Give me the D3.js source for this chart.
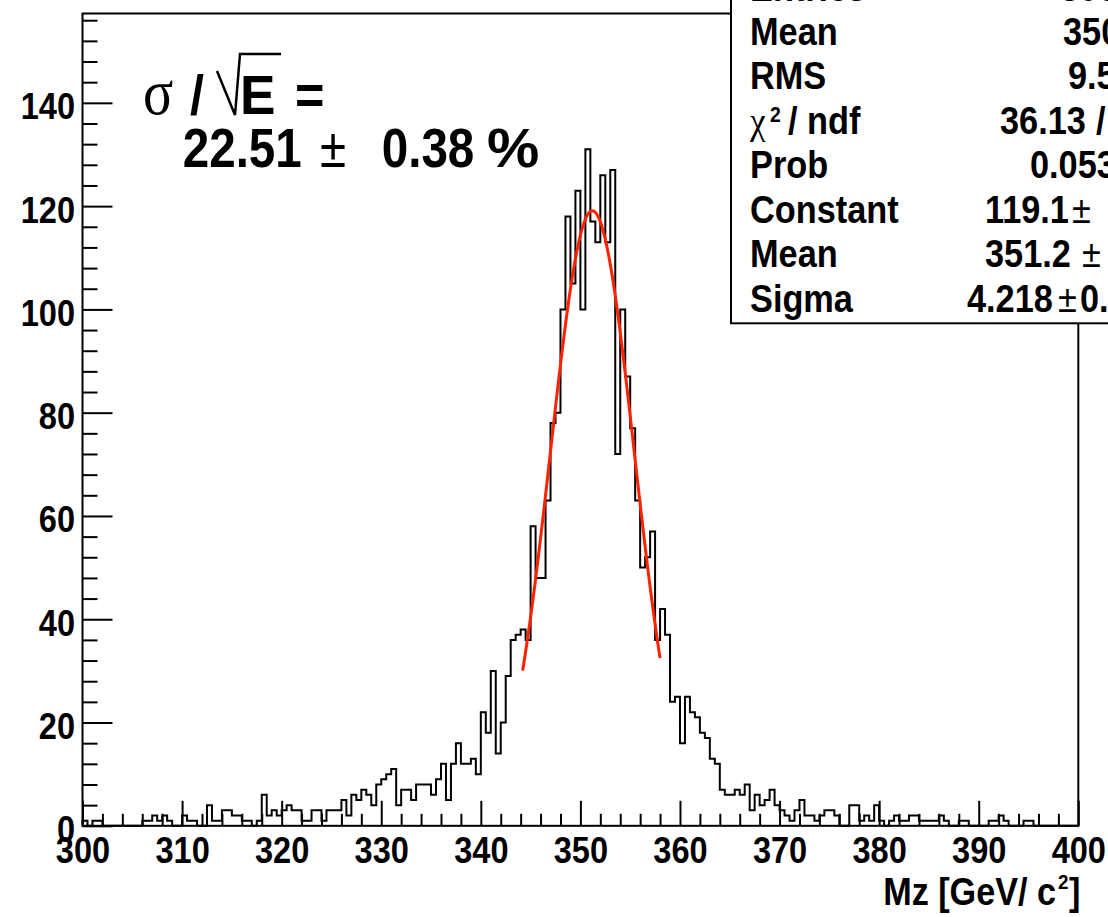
<!DOCTYPE html>
<html>
<head>
<meta charset="utf-8">
<script src="https://cdn.jsdelivr.net/npm/d3@7"></script>
<style>
  body { margin: 0; background: #fff; }
  svg { display: block; }
</style>
</head>
<body>
<svg id="chart" width="1108" height="917"></svg>
<script>
// Reconstructed Z mass histogram: 200 bins of 0.5 GeV between 300 and 400 GeV/c^2
const massRange = [300, 400];
const binCounts = [
  1,0,1,1,0,0,0,0,0,0,
  0,0,1,1,2,1,2,1,0,0,
  2,1,1,0,0,4,1,1,3,3,
  2,2,1,1,0,1,6,2,3,2,
  3,4,3,3,1,1,3,3,1,3,
  3,3,5,2,6,5,7,6,4,8,
  9,10,11,4,7,7,5,8,8,8,
  6,9,12,5,12,16,12,12,13,10,
  22,18,30,14,20,29,36,37,38,36,
  58,48,48,63,78,80,100,118,105,123,
  100,131,117,113,126,113,127,72,100,87,
  77,63,50,52,57,36,42,37,24,25,
  16,25,22,21,18,17,13,12,7,6,
  6,7,6,8,3,6,4,5,7,4,
  3,2,1,3,5,2,2,1,2,3,
  3,2,0,0,4,4,1,2,1,4,
  1,0,1,2,1,1,2,2,1,1,
  1,1,2,1,0,0,1,1,0,0,
  0,0,1,1,2,1,0,0,0,1,
  1,0,0,0,0,0,0,0,0,0
];
const countMax = 157.3;

// Axis ticks
const xMajorTicks = [300, 310, 320, 330, 340, 350, 360, 370, 380, 390, 400];
const xMinorStep = 2;
const yMajorTicks = [0, 20, 40, 60, 80, 100, 120, 140];
const yMinorStep = 4;
const xTitle = "Mz [GeV/ c";

// Gaussian fit results
const fitConstant = 119.1;
const fitMean = 351.2;
const fitSigma = 4.218;
const fitRange = [344.2, 358.0];

// Statistics box rows: label, then value pieces with their start x
const statNames = ["Entries", "Mean", "RMS", "χ2 / ndf", "Prob", "Constant", "Mean", "Sigma"];
const statValues = [
  [["3000", 1060]],
  [["350.5", 1063]],
  [["9.551", 1068]],
  [["36.13", 1000], ["/", 1096], ["24", 1110]],
  [["0.05337", 1030]],
  [["119.1", 985], ["±", 1072], ["3.5", 1110]],
  [["351.2", 985], ["±", 1082], ["0.1", 1110]],
  [["4.218", 967], ["±", 1058], ["0.110", 1080]]
];

// Energy resolution annotation
const resolutionValue = "22.51";
const resolutionError = "0.38";

const SANS = "'Liberation Sans', Arial, Helvetica, sans-serif";
const SERIF = "'Liberation Serif', 'Times New Roman', serif";

const svg = d3.select("#chart");
const frame = { left: 82.5, right: 1078.3, top: 13.5, bottom: 825.8 };

const x = d3.scaleLinear().domain(massRange).range([frame.left, frame.right]);
const y = d3.scaleLinear().domain([0, countMax]).range([frame.bottom, frame.top]);

// Histogram outline
const binWidth = (massRange[1] - massRange[0]) / binCounts.length;
const steps = [[massRange[0], 0]]
  .concat(binCounts.map((c, i) => [massRange[0] + i * binWidth, c]))
  .concat([[massRange[1], binCounts[binCounts.length - 1]], [massRange[1], 0]]);

svg.append("path")
  .attr("d", d3.line().x(d => x(d[0])).y(d => y(d[1])).curve(d3.curveStepAfter)(steps))
  .attr("fill", "none")
  .attr("stroke", "#000")
  .attr("stroke-width", 2);

// Fitted Gaussian
const gauss = m => fitConstant * Math.exp(-0.5 * Math.pow((m - fitMean) / fitSigma, 2));
const fitPts = d3.range(0, 201).map(k => {
  const m = fitRange[0] + (fitRange[1] - fitRange[0]) * k / 200;
  return [m, gauss(m)];
});
svg.append("path")
  .attr("d", d3.line().x(d => x(d[0])).y(d => y(d[1])).curve(d3.curveLinear)(fitPts))
  .attr("fill", "none")
  .attr("stroke", "#ff2200")
  .attr("stroke-width", 3);

// Axes (ticks drawn inside the frame)
const xMinor = d3.range(massRange[0], massRange[1] + 0.001, xMinorStep).filter(v => v % 10 !== 0);
const yMinor = d3.range(0, countMax, yMinorStep).filter(v => v % 20 !== 0);
const TICK_FS = 37, TICK_SX = 0.88;

function styleAxis(g) {
  g.select(".domain").remove();
  g.selectAll(".tick line").attr("stroke", "#000").attr("stroke-width", 2);
  g.selectAll(".tick text")
    .attr("fill", "#000")
    .attr("font-family", SANS)
    .attr("font-weight", "bold")
    .attr("font-size", TICK_FS)
    .attr("transform", `scale(${TICK_SX},1)`);
}

const xAxisMinor = svg.append("g").attr("transform", `translate(0,${frame.bottom})`)
  .call(d3.axisBottom(x).tickValues(xMinor).tickSize(-12).tickFormat(""));
styleAxis(xAxisMinor);

const xAxis = svg.append("g").attr("transform", `translate(0,${frame.bottom})`)
  .call(d3.axisBottom(x).tickValues(xMajorTicks).tickSize(-25).tickPadding(11).tickFormat(d3.format("d")));
styleAxis(xAxis);

const yAxisMinor = svg.append("g").attr("transform", `translate(${frame.left},0)`)
  .call(d3.axisLeft(y).tickValues(yMinor).tickSize(-15).tickFormat(""));
styleAxis(yAxisMinor);

const yAxis = svg.append("g").attr("transform", `translate(${frame.left},0)`)
  .call(d3.axisLeft(y).tickValues(yMajorTicks).tickSize(-30).tickPadding(8.5).tickFormat(d3.format("d")));
styleAxis(yAxis);
yAxis.selectAll(".tick text").attr("dy", "0.43em");

// Frame
svg.append("rect")
  .attr("x", frame.left).attr("y", frame.top)
  .attr("width", frame.right - frame.left).attr("height", frame.bottom - frame.top)
  .attr("fill", "none").attr("stroke", "#000").attr("stroke-width", 2);

// Text helper: horizontally condensed glyphs
function label(g, px, py, str, opt) {
  const o = Object.assign({ size: 31, sx: 1, weight: "bold", family: SANS, anchor: "start" }, opt || {});
  return g.append("text")
    .attr("transform", `translate(${px},${py}) scale(${o.sx},1)`)
    .attr("font-family", o.family)
    .attr("font-weight", o.weight)
    .attr("font-size", o.size)
    .attr("text-anchor", o.anchor)
    .attr("fill", "#000")
    .text(str);
}

// X axis title
label(svg, 1056, 905, xTitle, { size: 38, sx: 0.9, anchor: "end" });
label(svg, 1058, 889, "2", { size: 21, sx: 0.9 });
label(svg, 1069, 905, "]", { size: 38, sx: 0.9 });

// Resolution annotation
const ann = svg.append("g");
label(ann, 143, 114, "σ", { size: 66, sx: 0.85, weight: "normal", family: SERIF });
label(ann, 190, 114, "/", { size: 56, sx: 0.9 });
ann.append("path")
  .attr("d", "M217,71 L235,115 L240,54 L281,54")
  .attr("fill", "none").attr("stroke", "#000").attr("stroke-width", 2.5);
label(ann, 240, 114, "E", { size: 56, sx: 0.95 });
label(ann, 295, 114, "=", { size: 56, sx: 0.9 });
label(ann, 182.7, 166.5, resolutionValue, { size: 56, sx: 0.85 });
label(ann, 320, 166.5, "±", { size: 56, sx: 0.85, weight: "normal" });
label(ann, 381.7, 166.5, resolutionError, { size: 56, sx: 0.85 });
label(ann, 487, 166.5, "%", { size: 56, sx: 1.05 });

// Statistics box
const box = svg.append("g");
box.append("rect")
  .attr("x", 731).attr("y", -5).attr("width", 420).attr("height", 328.3)
  .attr("fill", "#fff").attr("stroke", "#000").attr("stroke-width", 2);

const rowY = [0.5, 44.5, 89, 133.5, 178, 222.5, 267, 311.5];
const SX = 0.88, FS = 39;

statNames.forEach((name, i) => {
  if (name.startsWith("χ")) {
    label(box, 750, rowY[i], "χ", { size: FS, sx: 0.9, weight: "normal", family: SERIF });
    label(box, 770, rowY[i] - 12, "2", { size: 22, sx: SX });
    label(box, 788, rowY[i], "/ ndf", { size: FS, sx: SX });
  } else {
    label(box, 750, rowY[i], name, { size: FS, sx: SX });
  }
  statValues[i].forEach(([part, px]) => {
    label(box, px, rowY[i], part, { size: FS, sx: SX, weight: part === "±" ? "normal" : "bold" });
  });
});
</script>
</body>
</html>
